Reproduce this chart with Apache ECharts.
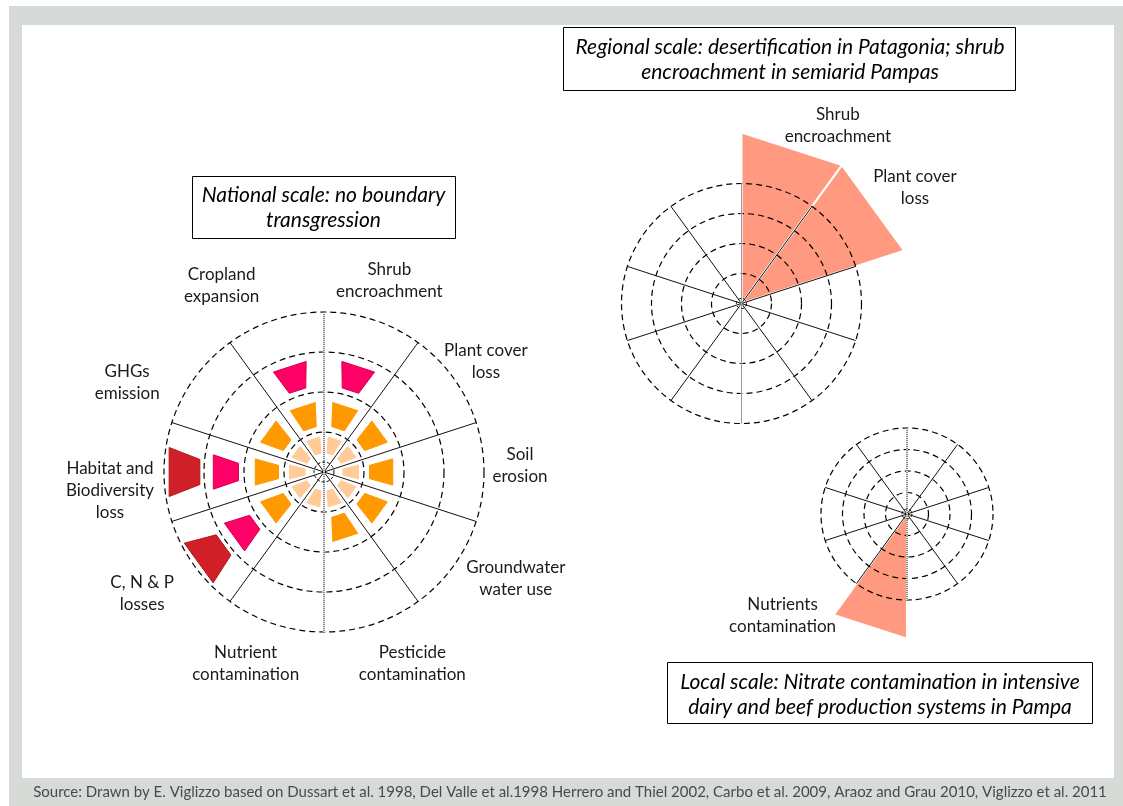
<!DOCTYPE html>
<html><head><meta charset="utf-8">
<script src="https://cdn.jsdelivr.net/npm/echarts@6/dist/echarts.min.js"></script>
<style>html,body{margin:0;padding:0;background:#fff}#chart{width:1123px;height:806px}</style>
</head><body><div id="chart"></div>
<script>
// ---------------- data ----------------
const categories = ['Shrub\nencroachment', 'Plant cover\nloss', 'Soil\nerosion', 'Groundwater\nwater use',
  'Pesticide\ncontamination', 'Nutrient\ncontamination', 'C, N & P\nlosses', 'Habitat and\nBiodiversity\nloss',
  'GHGs\nemission', 'Cropland\nexpansion'];
// number of filled rings per category (1 = low ... 4 = very high), national scale
const nationalLevels = [3, 2, 2, 2, 2, 1, 4, 4, 2, 3];
// regional scale wedges (radius in ring units)
const regionalCategories = ['Shrub\nencroachment', 'Plant cover\nloss', '', '', '', '', '', '', '', ''];
const regionalExtent = [5.7, 5.7, 0, 0, 0, 0, 0, 0, 0, 0];
// local scale wedges
const localCategories = ['', '', '', '', '', 'Nutrients\ncontamination', '', '', '', ''];
const localExtent = [0, 0, 0, 0, 0, 5.8, 0, 0, 0, 0];
const ringTicks = 4;

// ---------------- styles ----------------
const RING_COLORS = ['#FFCC99', '#FF9900', '#FF0066', '#D01F26'];
const RING_STROKES = ['#FFCC99', '#FF9900', '#D6004F', '#B0161C'];
const RING_GEOM = [
  { r0: 0.48, r1: 0.88, h0: 0.25, h1: 0.31 },
  { r0: 1.15, r1: 1.75, h0: 0.23, h1: 0.30 },
  { r0: 2.15, r1: 2.80, h0: 0.16, h1: 0.245 },
  { r0: 3.12, r1: 3.92, h0: 0.16, h1: 0.25 }
];
const WEDGE_COLOR = '#FF9A80';
const LABEL_FONT = '17px Lato';
const TITLE_FONT = 'italic 21px Lato';
const nationalNudge = [[2, 3], [-4, 10], [-9, -6], [26, -14], [25, -3], [-15, -3], [-16, 1], [-9, 19], [-31, 31], [-39, 8]];
const regionalNudge = [[34, 14], [10, 3], [0, 0], [0, 0], [0, 0], [0, 0], [0, 0], [0, 0], [0, 0], [0, 0]];
const localNudge = [[0, 0], [0, 0], [0, 0], [0, 0], [0, 0], [-75, -51], [0, 0], [0, 0], [0, 0], [0, 0]];

const chart = echarts.init(document.getElementById('chart'), null, { renderer: 'canvas' });

function angleAxisFor(idx) {
  return {
    polarIndex: idx, type: 'value', min: 0, max: categories.length, interval: 1,
    startAngle: 90, clockwise: true, z: 3,
    axisLine: { show: false }, axisTick: { show: false }, axisLabel: { show: false },
    splitLine: { show: true, lineStyle: { color: '#111', width: 1 } }
  };
}
function radiusAxisFor(idx) {
  return {
    polarIndex: idx, type: 'value', min: 0, max: ringTicks, interval: 1, z: 3,
    axisLine: { show: false }, axisTick: { show: false }, axisLabel: { show: false },
    splitLine: { show: true, lineStyle: { color: '#000', width: 1.2, type: [6, 4] } }
  };
}

function hubRenderer(hubR) {
  return function (params, api) {
    const c0 = api.coord([0, 0]);
    const p = api.coord([hubR, 0]);
    const r = Math.hypot(p[0] - c0[0], p[1] - c0[1]);
    const top = api.coord([ringTicks, 0]);
    const bot = api.coord([ringTicks, categories.length / 2]);
    return {
      type: 'group', children: [
        { type: 'line', shape: { x1: top[0], y1: top[1], x2: bot[0], y2: bot[1] }, style: { stroke: '#fff', lineWidth: 1.6 } },
        { type: 'line', shape: { x1: top[0], y1: top[1], x2: bot[0], y2: bot[1] }, style: { stroke: '#333', lineWidth: 1, lineDash: [1, 1] } },
        { type: 'circle', shape: { cx: c0[0], cy: c0[1], r: r }, style: { fill: 'none', stroke: '#000', lineWidth: 1, lineDash: [3, 2] } }
      ]
    };
  };
}

function labelRenderer(labels, nudges, labelR) {
  return function (params, api) {
    const i = api.value(0);
    if (!labels[i]) return null;
    const p = api.coord([labelR, i + 0.5]);
    const n = nudges[i];
    return {
      type: 'text', x: p[0] + n[0], y: p[1] + n[1],
      style: { text: labels[i], fill: '#1a1a1a', font: LABEL_FONT, align: 'center', verticalAlign: 'middle', lineHeight: 22 }
    };
  };
}

function blockRenderer(params, api) {
  const cat = api.value(0), ring = api.value(1);
  const g = RING_GEOM[ring];
  const c = cat + 0.5;
  const pts = [api.coord([g.r0, c - g.h0]), api.coord([g.r0, c + g.h0]), api.coord([g.r1, c + g.h1]), api.coord([g.r1, c - g.h1])];
  return { type: 'polygon', shape: { points: pts }, style: { fill: RING_COLORS[ring], stroke: RING_STROKES[ring], lineWidth: 1 } };
}

function wedgeRenderer(params, api) {
  const cat = api.value(0), ext = api.value(1);
  if (!(ext > 0)) return null;
  const c0 = api.coord([0, 0]);
  const a = api.coord([ext, cat]);
  const b = api.coord([ext, cat + 1]);
  return { type: 'polygon', shape: { points: [c0, a, b] }, style: { fill: WEDGE_COLOR, stroke: '#fff', lineWidth: 2 } };
}

// build series data from the arrays
const blockData = [];
nationalLevels.forEach((lvl, i) => { for (let k = 0; k < lvl; k++) blockData.push([i, k]); });
const catIdx = categories.map((_, i) => [i]);

const option = {
  animation: false,
  backgroundColor: 'transparent',
  polar: [
    { center: [324, 472], radius: 160 },
    { center: [741.5, 303.5], radius: 120 },
    { center: [907, 514], radius: 86 }
  ],
  angleAxis: [angleAxisFor(0), angleAxisFor(1), angleAxisFor(2)],
  radiusAxis: [radiusAxisFor(0), radiusAxisFor(1), radiusAxisFor(2)],
  graphic: [
    { type: 'rect', z: -100, shape: { x: 9, y: 6, width: 1114, height: 800 }, style: { fill: '#D6DBD7' } },
    { type: 'rect', z: -99, shape: { x: 22, y: 25, width: 1092, height: 753 }, style: { fill: '#ffffff' } },
    { type: 'text', z: 10, x: 570, y: 792, style: { text: 'Source: Drawn by E. Viglizzo based on Dussart et al. 1998, Del Valle et al.1998 Herrero and Thiel 2002, Carbo et al. 2009, Araoz and Grau 2010, Viglizzo et al. 2011', fill: '#4a4a4a', font: '15px Lato', align: 'center', verticalAlign: 'middle' } },
    { type: 'rect', z: 10, shape: { x: 192.5, y: 176.5, width: 263, height: 62 }, style: { fill: '#fff', stroke: '#000', lineWidth: 1 } },
    { type: 'text', z: 11, x: 323.5, y: 207.5, style: { text: 'National scale: no boundary\ntransgression', fill: '#000', font: TITLE_FONT, align: 'center', verticalAlign: 'middle', lineHeight: 25 } },
    { type: 'rect', z: 10, shape: { x: 563.5, y: 27.5, width: 452, height: 63 }, style: { fill: '#fff', stroke: '#000', lineWidth: 1 } },
    { type: 'text', z: 11, x: 790, y: 59.5, style: { text: 'Regional scale: desertification in Patagonia; shrub\nencroachment in semiarid Pampas', fill: '#000', font: TITLE_FONT, align: 'center', verticalAlign: 'middle', lineHeight: 25.5 } },
    { type: 'rect', z: 10, shape: { x: 667.5, y: 662.5, width: 425, height: 61 }, style: { fill: '#fff', stroke: '#000', lineWidth: 1 } },
    { type: 'text', z: 11, x: 880, y: 694.5, style: { text: 'Local scale: Nitrate contamination in intensive\ndairy and beef production systems in Pampa', fill: '#000', font: TITLE_FONT, align: 'center', verticalAlign: 'middle', lineHeight: 24.5 } }
  ],
  series: [
    { type: 'custom', name: 'National', coordinateSystem: 'polar', polarIndex: 0, z: 1, renderItem: blockRenderer, data: blockData, encode: { angle: 0, radius: 1 } },
    { type: 'custom', name: 'Regional', coordinateSystem: 'polar', polarIndex: 1, z: 1, renderItem: wedgeRenderer, data: regionalExtent.map((v, i) => [i, v]), encode: { angle: 0, radius: 1 } },
    { type: 'custom', name: 'Local', coordinateSystem: 'polar', polarIndex: 2, z: 1, renderItem: wedgeRenderer, data: localExtent.map((v, i) => [i, v]), encode: { angle: 0, radius: 1 } },
    { type: 'custom', coordinateSystem: 'polar', polarIndex: 0, z: 5, renderItem: hubRenderer(0.25), data: [[0]], silent: true },
    { type: 'custom', coordinateSystem: 'polar', polarIndex: 1, z: 5, renderItem: hubRenderer(0.17), data: [[0]], silent: true },
    { type: 'custom', coordinateSystem: 'polar', polarIndex: 2, z: 5, renderItem: hubRenderer(0.23), data: [[0]], silent: true },
    { type: 'custom', coordinateSystem: 'polar', polarIndex: 0, z: 6, renderItem: labelRenderer(categories, nationalNudge, 205 / 40), data: catIdx, silent: true, encode: { angle: 0 } },
    { type: 'custom', coordinateSystem: 'polar', polarIndex: 1, z: 6, renderItem: labelRenderer(regionalCategories, regionalNudge, 202 / 30), data: catIdx, silent: true, encode: { angle: 0 } },
    { type: 'custom', coordinateSystem: 'polar', polarIndex: 2, z: 6, renderItem: labelRenderer(localCategories, localNudge, 160 / 21.5), data: catIdx, silent: true, encode: { angle: 0 } }
  ]
};
chart.setOption(option);
</script></body></html>
